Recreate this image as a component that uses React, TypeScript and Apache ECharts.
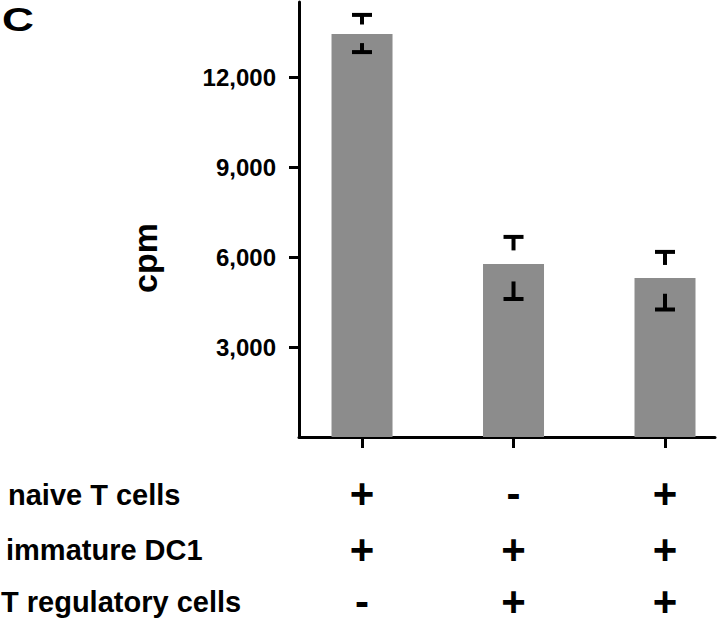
import React, { useEffect, useRef } from "react";
import * as echarts from "echarts";

// ---- data ----
const conditions = [1, 2, 3];
const meanCpm = [13430, 5770, 5300];
const upperCpm = [14070, 6670, 6170];
const lowerCpm = [12830, 4600, 4250];
const yTickValues = [3000, 6000, 9000, 12000];
const rowNames = ["naive T cells", "immature DC1", "T regulatory cells"];
const naiveT = ["+", "-", "+"];
const immatureDC1 = ["+", "+", "+"];
const tRegulatory = ["-", "+", "+"];

const FONT = "'Liberation Sans', Arial, Helvetica, sans-serif";

export default function App() {
  const ref = useRef<HTMLDivElement>(null);

  useEffect(() => {
    document.body.style.margin = "0";
    if (!ref.current) return;
    const chart = echarts.init(ref.current, null, { renderer: "svg" });

    const rows = [naiveT, immatureDC1, tRegulatory];
    const rowMargins = [41, 97, 149];
    const rowX = [8, 6, 1];
    const rowY = [495, 550, 602];

    const xMin = 0.584;
    const xMax = 3.33;

    const xAxes = rows.map((row, k) => ({
      type: "value",
      min: xMin,
      max: xMax,
      position: "bottom",
      gridIndex: 0,
      splitLine: { show: false },
      axisLine: {
        show: k === 0,
        onZero: false,
        lineStyle: { color: "#000", width: 3 },
      },
      axisTick: {
        show: k === 0,
        customValues: conditions,
        length: 11,
        lineStyle: { color: "#000", width: 3 },
      },
      axisLabel: {
        show: true,
        customValues: conditions,
        margin: rowMargins[k],
        color: "#000",
        fontFamily: FONT,
        fontWeight: "bold",
        fontSize: 42,
        lineHeight: 30,
        align: "center",
        formatter: (v: number) => row[Math.round(v) - 1],
      },
    }));

    const option: any = {
      animation: false,
      backgroundColor: "#ffffff",
      grid: {
        left: 299,
        right: 5,
        top: 2,
        bottom: 186,
        containLabel: false,
        outerBoundsMode: "none",
      },
      xAxis: xAxes,
      yAxis: {
        type: "value",
        min: 0,
        max: 14500,
        splitLine: { show: false },
        axisLine: { show: true, lineStyle: { color: "#000", width: 3 } },
        axisTick: {
          show: true,
          customValues: yTickValues,
          length: 10,
          lineStyle: { color: "#000", width: 3 },
        },
        axisLabel: {
          show: true,
          customValues: yTickValues,
          margin: 23,
          color: "#000",
          fontFamily: FONT,
          fontWeight: "bold",
          fontSize: 24,
          formatter: (v: number) => v.toLocaleString("en-US"),
        },
      },
      series: [
        {
          type: "bar",
          xAxisIndex: 0,
          data: conditions.map((c, i) => [c, meanCpm[i]]),
          barWidth: 61,
          itemStyle: { color: "#8c8c8c" },
          z: 2,
        },
        {
          type: "custom",
          xAxisIndex: 0,
          z: 5,
          data: conditions.map((c, i) => [c, meanCpm[i], upperCpm[i], lowerCpm[i]]),
          encode: { x: 0, y: [1, 2, 3] },
          renderItem: (params: any, api: any) => {
            const x = api.value(0);
            const pm = api.coord([x, api.value(1)]);
            const pu = api.coord([x, api.value(2)]);
            const pl = api.coord([x, api.value(3)]);
            const cx = pm[0];
            const half = 10;
            const uEnd = pu[1] + (pm[1] - pu[1]) * 0.5;
            const lEnd = pl[1] - (pl[1] - pm[1]) * 0.5;
            const st = { stroke: "#000", lineWidth: 4 };
            return {
              type: "group",
              children: [
                { type: "line", shape: { x1: cx - half, y1: pu[1], x2: cx + half, y2: pu[1] }, style: st },
                { type: "line", shape: { x1: cx, y1: pu[1], x2: cx, y2: uEnd }, style: st },
                { type: "line", shape: { x1: cx - half, y1: pl[1], x2: cx + half, y2: pl[1] }, style: st },
                { type: "line", shape: { x1: cx, y1: pl[1], x2: cx, y2: lEnd }, style: st },
              ],
            };
          },
        },
      ],
      graphic: [
        {
          type: "text",
          x: 2,
          y: 19,
          scaleX: 1.3,
          style: {
            text: "C",
            fill: "#000",
            font: `bold 34px ${FONT}`,
            textAlign: "left",
            textVerticalAlign: "middle",
          },
        },
        {
          type: "text",
          x: 145,
          y: 258,
          rotation: Math.PI / 2,
          style: {
            text: "cpm",
            fill: "#000",
            font: `bold 34px ${FONT}`,
            textAlign: "center",
            textVerticalAlign: "middle",
          },
        },
        ...rowNames.map((name, i) => ({
          type: "text",
          x: rowX[i],
          y: rowY[i],
          style: {
            text: name,
            fill: "#000",
            font: `bold 29px ${FONT}`,
            textAlign: "left",
            textVerticalAlign: "middle",
          },
        })),
      ],
    };

    chart.setOption(option);
    return () => chart.dispose();
  }, []);

  return (
    <div
      ref={ref}
      style={{ position: "absolute", left: 0, top: 0, width: 720, height: 623 }}
    />
  );
}
